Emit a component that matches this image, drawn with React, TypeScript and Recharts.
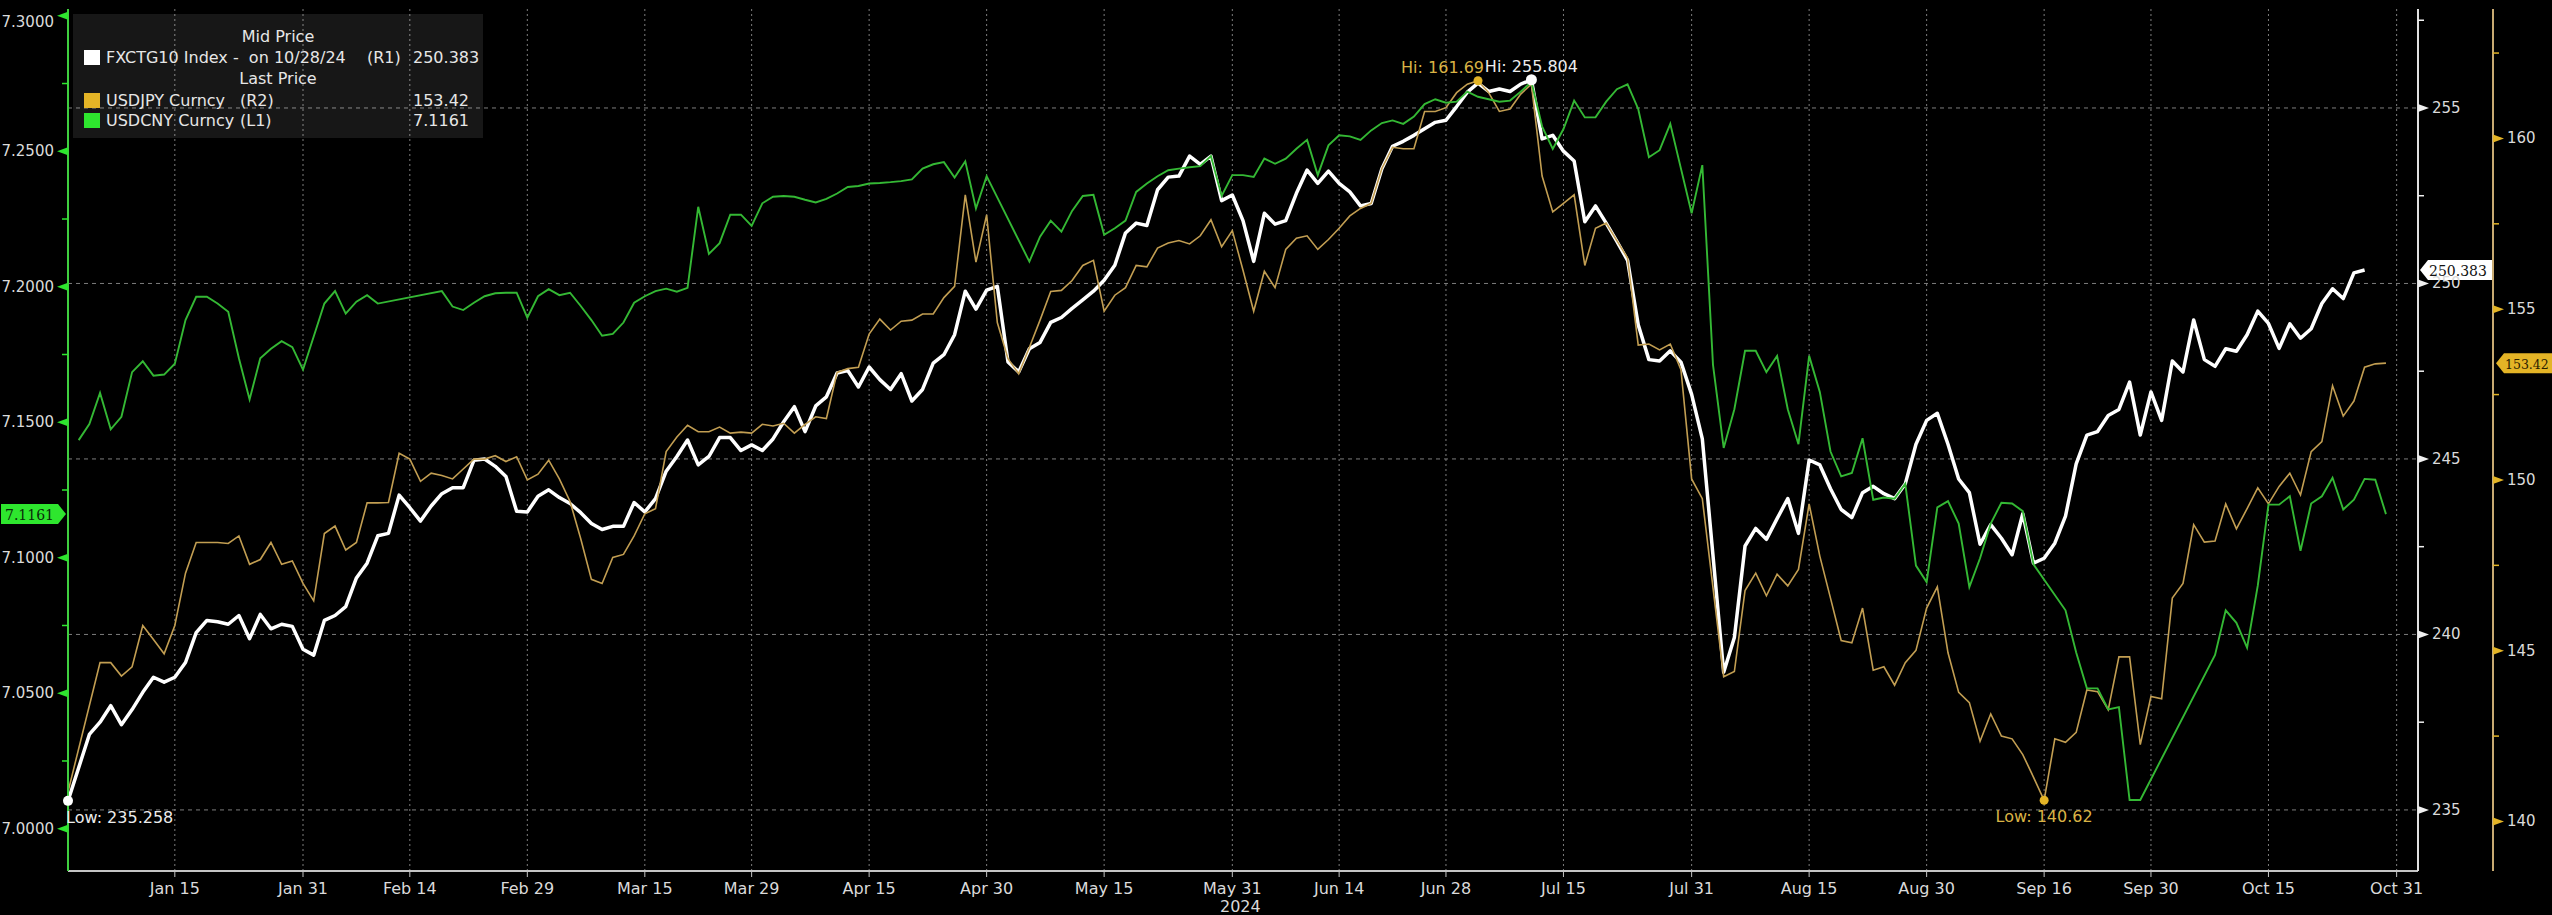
import React from 'react'
import { LineChart, Line, XAxis, YAxis, CartesianGrid, ReferenceLine, ReferenceDot } from 'recharts'

// trading days (weekdays) counted from 2024-01-01 = day 0
const FXCTG10: (number | null)[] = [
  235.258, null, 237.15, 237.5, 237.97, 237.43, 237.86, 238.35, 238.78, 238.64,
  238.78, 239.2, 240.05, 240.4, 240.36, 240.29, 240.54, 239.88, 240.57, 240.16,
  240.29, 240.23, 239.58, 239.41, 240.4, 240.54, 240.79, 241.61, 242.03, 242.81,
  242.88, 243.97, 243.61, 243.23, 243.66, 244.01, 244.18, 244.18, 244.96, 245.0,
  244.79, 244.5, 243.51, 243.49, 243.94, 244.12, 243.9, 243.73, 243.47, 243.16,
  242.99, 243.08, 243.08, 243.76, 243.49, 243.87, 244.65, 245.07, 245.54, 244.83,
  245.07, 245.61, 245.61, 245.24, 245.4, 245.24, 245.57, 246.06, 246.49, 245.78,
  246.51, 246.77, 247.45, 247.52, 247.05, 247.62, 247.26, 246.98, 247.43, 246.65,
  246.98, 247.73, 247.97, 248.54, 249.78, 249.27, 249.81, 249.92, 247.76, 247.48,
  248.14, 248.32, 248.89, 249.03, 249.29, 249.53, 249.78, 250.09, 250.52, 251.44,
  251.72, 251.65, 252.67, 253.03, 253.06, 253.63, 253.39, 253.63, 252.36, 252.52,
  251.79, 250.63, 252.0, 251.69, 251.79, 252.57, 253.23, 252.85, 253.2, 252.85,
  252.61, 252.21, 252.28, 253.27, 253.91, 254.05, 254.22, 254.41, 254.59, 254.65,
  255.04, 255.45, 255.71, 255.47, 255.54, 255.47, 255.68, 255.804, 254.12, 254.22,
  253.77, 253.49, 251.76, 252.21, 251.72, 251.2, 250.66, 248.82, 247.83, 247.79,
  248.08, 247.76, 246.84, 245.57, null, 238.92, 239.91, 242.52, 243.02, 242.71,
  243.3, 243.87, 242.88, 244.97, 244.83, 244.15, 243.56, 243.33, 244.04, 244.22,
  244.01, 243.87, 244.29, 245.42, 246.1, 246.3, 245.42, 244.43, 244.04, 242.57,
  243.13, 242.74, 242.27, 243.44, 242.03, 242.17, 242.6, 243.37, 244.86, 245.68,
  245.78, 246.24, 246.41, 247.19, 245.68, 246.91, 246.1, 247.79, 247.48, 248.96,
  247.83, 247.64, 248.14, 248.07, 248.54, 249.21, 248.86, 248.15, 248.85, 248.44,
  248.71, 249.43, 249.85, 249.57, 250.3, 250.383,
]

const USDJPY: (number | null)[] = [
  140.87, null, null, 144.65, 144.65, 144.26, 144.53, 145.74, 145.33, 144.91,
  145.74, 147.27, 148.17, 148.17, 148.17, 148.14, 148.36, 147.53, 147.67, 148.17,
  147.53, 147.63, 146.97, 146.46, 148.43, 148.65, 147.95, 148.17, 149.33, 149.33,
  149.34, 150.78, 150.61, 149.96, 150.2, 150.13, 150.03, 150.32, 150.61, 150.61,
  150.71, 150.54, 150.68, 150.0, 150.17, 150.58, 150.03, 149.37, 148.28, 147.09,
  146.97, 147.73, 147.82, 148.36, 149.01, 149.16, 150.83, 151.26, 151.6, 151.41,
  151.41, 151.55, 151.37, 151.4, 151.37, 151.63, 151.58, 151.66, 151.37, 151.63,
  151.85, 151.8, 153.15, 153.26, 153.3, 154.27, 154.71, 154.39, 154.65, 154.68,
  154.86, 154.86, 155.34, 155.67, 158.35, 156.38, 157.76, 154.61, 153.55, 153.11,
  153.88, 154.68, 155.52, 155.55, 155.84, 156.28, 156.43, 154.94, 155.41, 155.63,
  156.28, 156.24, 156.79, 156.94, 157.01, 156.91, 157.15, 157.62, 156.83, 157.3,
  156.14, 154.94, 156.11, 155.63, 156.75, 157.08, 157.15, 156.75, 157.04, 157.37,
  157.73, 157.95, 158.1, 159.12, 159.74, 159.7, 159.7, 160.79, 160.79, 160.9,
  161.34, 161.59, 161.69, 161.34, 160.79, 160.86, 161.3, 161.59, 158.9, 157.85,
  158.1, 158.35, 156.28, 157.37, 157.52, 157.01, 156.5, 153.95, 153.98, 153.81,
  153.98, 153.23, 150.03, 149.45, null, 144.24, 144.39, 146.76, 147.27, 146.61,
  147.24, 146.9, 147.38, 149.3, 147.77, 146.54, 145.3, 145.23, 146.25, 144.43,
  144.53, 143.99, 144.65, 145.01, 146.25, 146.87, 144.94, 143.78, 143.48, 142.35,
  143.15, 142.5, 142.42, 141.96, 141.3, 140.62, 142.42, 142.32, 142.61, 143.85,
  143.8, 143.27, 144.82, 144.82, 142.25, 143.66, 143.59, 146.54, 146.97, 148.69,
  148.18, 148.21, 149.3, 148.57, 149.16, 149.77, 149.3, 149.81, 150.2, 149.56,
  150.83, 151.12, 152.76, 151.87, 152.31, 153.3, 153.4, 153.42,
]

const USDCNY: (number | null)[] = [
  null, 7.1434, 7.1493, 7.1608, 7.1474, 7.152, 7.1685, 7.1725, 7.1672, 7.1676,
  7.1716, 7.1877, 7.1963, 7.1963, 7.1938, 7.1908, 7.1736, 7.1584, 7.1736, 7.1771,
  7.1799, 7.1777, 7.1694, null, 7.1938, 7.1984, 7.1901, 7.1945, 7.1969, 7.1938,
  null, null, null, null, null, 7.1984, 7.1927, 7.1914, 7.1941, 7.1965,
  7.1976, 7.1978, 7.1978, 7.1886, 7.1965, 7.1991, 7.1969, 7.1978, 7.1929, 7.1877,
  7.1819, 7.1826, 7.1868, 7.1941, 7.1965, 7.1984, 7.1993, 7.1982, 7.1996, 7.2295,
  7.2121, 7.2161, 7.2266, 7.2266, 7.2225, 7.2308, 7.2332, 7.2335, 7.2332, 7.2321,
  7.2311, 7.2324, 7.2344, 7.2368, 7.2372, 7.2381, 7.2383, 7.2386, 7.239, 7.2396,
  7.2436, 7.2452, 7.246, 7.2403, 7.2463, 7.2289, 7.2408, null, null, null,
  7.2093, 7.2185, 7.2244, 7.2203, 7.228, 7.2335, 7.2339, 7.2192, 7.2216, 7.2244,
  7.235, 7.2381, 7.2408, 7.243, 7.2436, 7.2441, 7.2445, 7.2482, 7.2335, 7.2412,
  7.2412, 7.2405, 7.2473, 7.2454, 7.2473, 7.2509, 7.2542, 7.2412, 7.2522, 7.2559,
  7.2555, 7.2542, 7.2577, 7.2604, 7.2614, 7.2601, 7.2628, 7.2674, 7.2692, 7.2679,
  7.2683, 7.272, 7.2701, 7.2692, 7.2683, 7.2687, 7.272, 7.2756, 7.2592, 7.2509,
  7.2582, 7.2687, 7.2625, 7.2625, 7.2683, 7.2729, 7.2747, 7.2656, 7.2478, 7.2504,
  7.2601, 7.2436, 7.2271, 7.2449, 7.1712, 7.1405, 7.1548, 7.1764, 7.1764, 7.1685,
  7.1745, 7.1548, 7.1419, 7.1745, 7.1612, 7.1392, 7.13, 7.1313, 7.1441, 7.1214,
  7.1222, 7.1218, 7.1273, 7.0971, 7.091, 7.1186, 7.1209, 7.1126, 7.0892, 7.0998,
  7.1126, 7.1203, 7.12, 7.1172, 7.0976, null, null, 7.0806, 7.065, 7.0518,
  7.0518, 7.044, 7.0449, 7.0106, 7.0106, null, null, null, null, null,
  null, 7.0641, 7.0806, 7.076, 7.0668, 7.0897, 7.1196, 7.1196, 7.1227, 7.1026,
  7.12, 7.1227, 7.1295, 7.1178, 7.1214, 7.1291, 7.1288, 7.1161,
]

const tickDates = [
  '2024-01-15', '2024-01-31', '2024-02-14', '2024-02-29', '2024-03-15', '2024-03-29',
  '2024-04-15', '2024-04-30', '2024-05-15', '2024-05-31', '2024-06-14', '2024-06-28',
  '2024-07-15', '2024-07-31', '2024-08-15', '2024-08-30', '2024-09-16', '2024-09-30',
  '2024-10-15', '2024-10-31',
]
const yearTickDate = '2024-05-31'
const MONTHS = ['Jan', 'Feb', 'Mar', 'Apr', 'May', 'Jun', 'Jul', 'Aug', 'Sep', 'Oct', 'Nov', 'Dec']

const cnyTicks = [7.0, 7.025, 7.05, 7.075, 7.1, 7.125, 7.15, 7.175, 7.2, 7.225, 7.25, 7.275, 7.3]
const fxTicks = [235, 237.5, 240, 242.5, 245, 247.5, 250, 252.5, 255, 257.5]
const jpyTicks = [140, 142.5, 145, 147.5, 150, 152.5, 155, 157.5, 160, 162.5]
const fxGrid = [235, 240, 245, 250, 255]

const legendHeaders = ['Mid Price', 'Last Price']
const legendNames = ['FXCTG10 Index -  on 10/28/24', 'USDJPY Curncy', 'USDCNY Curncy']
const legendTags = ['(R1)', '(R2)', '(L1)']

const W = 2552
const H = 915
const FONT = 'DejaVu Sans'
const COL = {
  fx: '#ffffff',
  jpy: '#c29e52',
  jpyKey: '#e4b426',
  cny: '#34b834',
  cnyKey: '#2ee62e',
  cnyAxis: '#3fcf3f',
  jpyAxis: '#c8aa72',
  grid: '#7d7d7d',
  text: '#dadada',
}

function tradingDay(iso: string) {
  const start = Date.UTC(2024, 0, 1)
  const [y, m, d] = iso.split('-').map(Number)
  const end = Date.UTC(y, m - 1, d)
  let n = 0
  for (let t = start; t < end; t += 86400000) {
    const wd = new Date(t).getUTCDay()
    if (wd !== 0 && wd !== 6) n++
  }
  return n
}

function extremeIdx(vals: (number | null)[], kind: 'max' | 'min') {
  let best = -1
  vals.forEach((v, i) => {
    if (v == null) return
    const b = best < 0 ? null : (vals[best] as number)
    if (b == null || (kind === 'max' ? v > b : v < b)) best = i
  })
  return best
}

function lastVal(vals: (number | null)[]) {
  for (let i = vals.length - 1; i >= 0; i--) if (vals[i] != null) return vals[i] as number
  return 0
}

const rows = USDJPY.map((_, i) => ({
  day: i,
  fx: FXCTG10[i] ?? null,
  jpy: USDJPY[i] ?? null,
  cny: USDCNY[i] ?? null,
}))

const xTicks = tickDates.map(tradingDay)
const xLabels = new Map(
  tickDates.map((d) => {
    const [, m, dd] = d.split('-').map(Number)
    return [tradingDay(d), `${MONTHS[m - 1]} ${dd}`] as [number, string]
  }),
)
const yearDay = tradingDay(yearTickDate)

const XTick = (props: any) => {
  const { x, y, payload } = props
  return (
    <g>
      <text x={x} y={y + 11} textAnchor="middle" dominantBaseline="central" fill={COL.text} fontSize={16} fontFamily={FONT}>
        {xLabels.get(payload.value)}
      </text>
      {payload.value === yearDay && (
        <text x={x + 8} y={y + 29} textAnchor="middle" dominantBaseline="central" fill={COL.text} fontSize={16} fontFamily={FONT}>
          2024
        </text>
      )}
    </g>
  )
}

function makeYTick(side: 'left' | 'right', color: string, isMajor: (v: number) => boolean, digits: number) {
  return (props: any) => {
    const { x, y, payload } = props
    const v = payload.value as number
    const dir = side === 'left' ? -1 : 1
    if (!isMajor(v)) {
      return <line x1={x} x2={x + dir * 6} y1={y} y2={y} stroke={color} strokeWidth={1.5} />
    }
    return (
      <g>
        <polygon points={`${x},${y - 4} ${x},${y + 4} ${x + dir * 11},${y}`} fill={color} />
        <text
          x={x + dir * 14}
          y={Math.max(y, 22)}
          textAnchor={side === 'left' ? 'end' : 'start'}
          dominantBaseline="central"
          fill={COL.text}
          fontSize={15}
          fontFamily={FONT}
        >
          {v.toFixed(digits)}
        </text>
      </g>
    )
  }
}

function makeBadge(side: 'left' | 'right', offset: number, text: string, bg: string, fg: string, size = 14) {
  return (p: any) => {
    const vb = p.viewBox
    const y = vb.y
    if (side === 'left') {
      const tip = vb.x - 2
      return (
        <g>
          <polygon points={`1,${y - 10} ${tip - 8},${y - 10} ${tip},${y} ${tip - 8},${y + 10} 1,${y + 10}`} fill={bg} />
          <text x={5} y={y + 1} dominantBaseline="central" fill={fg} fontSize={size} fontFamily="DejaVu Serif">
            {text}
          </text>
        </g>
      )
    }
    const tip = vb.x + vb.width + offset
    return (
      <g>
        <polygon points={`${tip},${y} ${tip + 8},${y - 10} ${tip + 74},${y - 10} ${tip + 74},${y + 10} ${tip + 8},${y + 10}`} fill={bg} />
        <text x={tip + 9} y={y + 1} dominantBaseline="central" fill={fg} fontSize={size} fontFamily="DejaVu Serif">
          {text}
        </text>
      </g>
    )
  }
}

function makePointLabel(text: string, color: string, anchor: 'start' | 'middle' | 'end', dx: number, dy: number) {
  return (p: any) => {
    const vb = p.viewBox
    const cx = vb.x + vb.width / 2
    const cy = vb.y + vb.height / 2
    return (
      <text x={cx + dx} y={cy + dy} textAnchor={anchor} dominantBaseline="central" fill={color} fontSize={16} fontFamily={FONT}>
        {text}
      </text>
    )
  }
}

export default function App() {
  const fxHi = extremeIdx(FXCTG10, 'max')
  const fxLo = extremeIdx(FXCTG10, 'min')
  const jpyHi = extremeIdx(USDJPY, 'max')
  const jpyLo = extremeIdx(USDJPY, 'min')
  const lastFx = lastVal(FXCTG10)
  const lastJpy = lastVal(USDJPY)
  const lastCny = lastVal(USDCNY)
  const legendValues = [lastFx.toFixed(3), lastJpy.toFixed(2), lastCny.toFixed(4)]
  const legendKeys = [COL.fx, COL.jpyKey, COL.cnyKey]

  const legendRow = (i: number, top: number) => (
    <div key={i} style={{ position: 'absolute', left: 0, top, width: '100%', height: 21 }}>
      <div style={{ position: 'absolute', left: 11, top: 3, width: 16, height: 15, background: legendKeys[i] }} />
      <span style={{ position: 'absolute', left: 33, top: 0, whiteSpace: 'pre' }}>{legendNames[i]}</span>
      <span style={{ position: 'absolute', left: i === 0 ? 294 : 167, top: 0 }}>{legendTags[i]}</span>
      <span style={{ position: 'absolute', left: 340, top: 0 }}>{legendValues[i]}</span>
    </div>
  )

  return (
    <div style={{ position: 'absolute', left: 0, top: 0, width: W, height: H, background: '#000', overflow: 'hidden' }}>
      <LineChart width={W} height={H} data={rows} margin={{ top: 9, right: 0, bottom: 0, left: 0 }}>
        <CartesianGrid yAxisId="R1" vertical={false} horizontalValues={fxGrid} stroke={COL.grid} strokeDasharray="4 4" />
        <CartesianGrid yAxisId="R1" horizontal={false} stroke={COL.grid} strokeDasharray="2 3" />
        <XAxis
          dataKey="day"
          type="number"
          domain={[0, 220]}
          allowDataOverflow
          ticks={xTicks}
          interval={0}
          height={44}
          tickSize={6}
          tickMargin={0}
          axisLine={{ stroke: '#c4c4c4', strokeWidth: 2 }}
          tickLine={{ stroke: '#c4c4c4' }}
          tick={<XTick />}
        />
        <YAxis
          yAxisId="L1"
          orientation="left"
          type="number"
          width={68}
          domain={[6.9844, 7.3025]}
          allowDataOverflow
          ticks={cnyTicks}
          interval={0}
          tickSize={0}
          tickMargin={0}
          tickLine={false}
          axisLine={{ stroke: COL.cnyAxis, strokeWidth: 2 }}
          tick={makeYTick('left', COL.cnyKey, (v) => Math.round(v * 1000) % 50 === 0, 4)}
        />
        <YAxis
          yAxisId="R1"
          orientation="right"
          type="number"
          width={75}
          domain={[233.26, 257.82]}
          allowDataOverflow
          ticks={fxTicks}
          interval={0}
          tickSize={0}
          tickMargin={0}
          tickLine={false}
          axisLine={{ stroke: '#e0e0e0', strokeWidth: 2 }}
          tick={makeYTick('right', '#f0f0f0', (v) => v % 5 === 0, 0)}
        />
        <YAxis
          yAxisId="R2"
          orientation="right"
          type="number"
          width={59}
          domain={[138.55, 163.79]}
          allowDataOverflow
          ticks={jpyTicks}
          interval={0}
          tickSize={0}
          tickMargin={0}
          tickLine={false}
          axisLine={{ stroke: COL.jpyAxis, strokeWidth: 2 }}
          tick={makeYTick('right', COL.jpyKey, (v) => v % 5 === 0, 0)}
        />
        <Line
          yAxisId="R1"
          dataKey="fx"
          type="linear"
          stroke={COL.fx}
          strokeWidth={3.5}
          strokeLinejoin="round"
          dot={false}
          activeDot={false}
          connectNulls
          isAnimationActive={false}
        />
        <Line
          yAxisId="R2"
          dataKey="jpy"
          type="linear"
          stroke={COL.jpy}
          strokeWidth={1.6}
          dot={false}
          activeDot={false}
          connectNulls
          isAnimationActive={false}
        />
        <Line
          yAxisId="L1"
          dataKey="cny"
          type="linear"
          stroke={COL.cny}
          strokeWidth={1.9}
          dot={false}
          activeDot={false}
          connectNulls
          isAnimationActive={false}
        />
        <ReferenceLine yAxisId="L1" y={lastCny} stroke="none" label={makeBadge('left', 0, lastCny.toFixed(4), COL.cnyKey, '#0a2a0a')} />
        <ReferenceLine yAxisId="R1" y={lastFx} stroke="none" label={makeBadge('right', 2, lastFx.toFixed(3), '#ffffff', '#111')} />
        <ReferenceLine yAxisId="R2" y={lastJpy} stroke="none" label={makeBadge('right', 78, lastJpy.toFixed(2), COL.jpyKey, '#2a2000', 12.5)} />
        <ReferenceDot
          yAxisId="R2"
          x={jpyHi}
          y={USDJPY[jpyHi] as number}
          r={4.5}
          fill={COL.jpyKey}
          stroke="none"
          label={makePointLabel(`Hi: ${(USDJPY[jpyHi] as number).toFixed(2)}`, '#d9b345', 'end', 6, -13)}
        />
        <ReferenceDot
          yAxisId="R1"
          x={fxHi}
          y={FXCTG10[fxHi] as number}
          r={5.5}
          fill="#ffffff"
          stroke="none"
          label={makePointLabel(`Hi: ${(FXCTG10[fxHi] as number).toFixed(3)}`, '#ececec', 'middle', 0, -13)}
        />
        <ReferenceDot
          yAxisId="R1"
          x={fxLo}
          y={FXCTG10[fxLo] as number}
          r={5}
          fill="#ffffff"
          stroke="none"
          label={makePointLabel(`Low: ${(FXCTG10[fxLo] as number).toFixed(3)}`, '#ececec', 'start', -2, 17)}
        />
        <ReferenceDot
          yAxisId="R2"
          x={jpyLo}
          y={USDJPY[jpyLo] as number}
          r={4.5}
          fill={COL.jpyKey}
          stroke="none"
          label={makePointLabel(`Low: ${(USDJPY[jpyLo] as number).toFixed(2)}`, '#d9b345', 'middle', 0, 16)}
        />
      </LineChart>

      <div
        style={{
          position: 'absolute',
          left: 73,
          top: 14,
          width: 410,
          height: 124,
          background: 'rgba(255,255,255,0.09)',
          color: '#e6e6e6',
          fontFamily: FONT,
          fontSize: 16,
          lineHeight: '21px',
        }}
      >
        <div style={{ position: 'absolute', left: 0, top: 12, width: '100%', textAlign: 'center' }}>{legendHeaders[0]}</div>
        {legendRow(0, 33)}
        <div style={{ position: 'absolute', left: 0, top: 54, width: '100%', textAlign: 'center' }}>{legendHeaders[1]}</div>
        {legendRow(1, 76)}
        {legendRow(2, 96)}
      </div>
    </div>
  )
}
